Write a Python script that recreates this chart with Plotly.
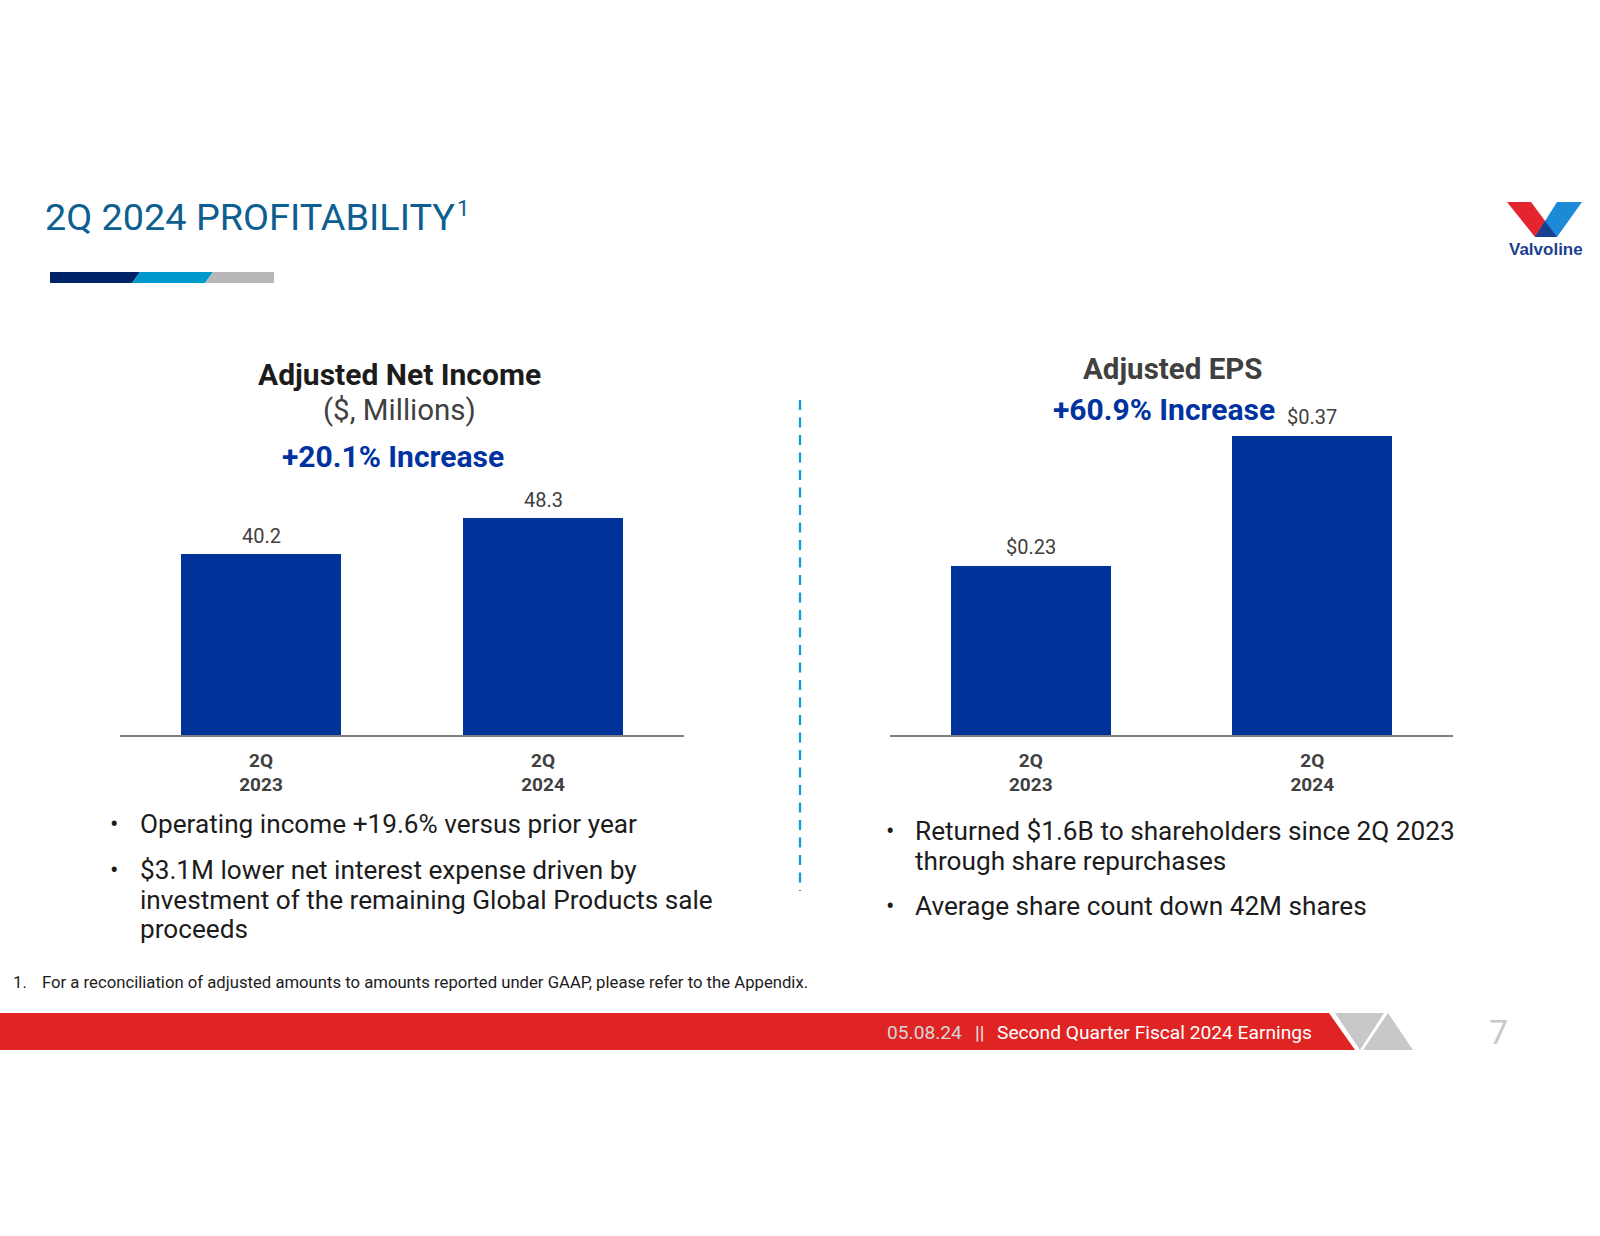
import plotly.graph_objects as go

# ---------------- data ----------------
categories = ["2Q<br>2023", "2Q<br>2024"]
net_income = [40.2, 48.3]
net_income_labels = ["40.2", "48.3"]
eps = [0.23, 0.37]
eps_labels = ["$0.23", "$0.37"]

left_bullets = [
    ["Operating income +19.6% versus prior year"],
    ["$3.1M lower net interest expense driven by",
     "investment of the remaining Global Products sale",
     "proceeds"],
]
right_bullets = [
    ["Returned $1.6B to shareholders since 2Q 2023",
     "through share repurchases"],
    ["Average share count down 42M shares"],
]

# ---------------- helpers (layout positions in page pixels) ----------------
W, H = 1600, 1236
def px(x):
    return x / W
def py(y):
    return 1 - y / H
def path(points):
    return "M " + " L ".join(f"{px(x):.5f},{py(y):.5f}" for x, y in points) + " Z"

BAR = "#003399"
BLUE_TXT = "#0033a0"
GREY_TXT = "#404040"
DARK_TXT = "#1c1c1c"
ROBOTO = "Roboto, sans-serif"

fig = go.Figure()
fig.add_trace(go.Bar(x=categories, y=net_income, xaxis="x", yaxis="y",
                     marker=dict(color=BAR, line=dict(width=0)), width=0.57,
                     hoverinfo="skip", showlegend=False))
fig.add_trace(go.Bar(x=categories, y=eps, xaxis="x2", yaxis="y2",
                     marker=dict(color=BAR, line=dict(width=0)), width=0.57,
                     hoverinfo="skip", showlegend=False))

xaxis_common = dict(showline=True, linecolor="#808080", linewidth=1.5,
                    showgrid=False, zeroline=False, ticks="",
                    tickfont=dict(family=ROBOTO, size=19, color=GREY_TXT, weight="bold"),
                    ticklabelstandoff=7, range=[-0.5, 1.5], fixedrange=True)

annotations = []

# bar value labels
for c, v, t in zip(categories, net_income, net_income_labels):
    annotations.append(dict(x=c, y=v, xref="x", yref="y", text=t, showarrow=False,
                            yanchor="bottom", yshift=4,
                            font=dict(family=ROBOTO, size=20, color=GREY_TXT)))
for c, v, t in zip(categories, eps, eps_labels):
    annotations.append(dict(x=c, y=v, xref="x2", yref="y2", text=t, showarrow=False,
                            yanchor="bottom", yshift=5,
                            font=dict(family=ROBOTO, size=20, color=GREY_TXT)))

def txt(x, y, text, size, color, family=ROBOTO, weight="normal", xanchor="center"):
    annotations.append(dict(x=px(x), y=py(y), xref="paper", yref="paper", text=text,
                            showarrow=False, xanchor=xanchor, yanchor="middle",
                            font=dict(family=family, size=size, color=color, weight=weight)))

# page title
txt(43, 217, "2Q 2024 PROFITABILITY", 37.8, "#0c5f90", xanchor="left")
txt(455, 209, "1", 22, "#0c5f90", xanchor="left")

# chart titles
txt(399, 375, "Adjusted Net Income", 30, DARK_TXT, weight="bold")
txt(399, 410, "($, Millions)", 29.5, GREY_TXT)
txt(393, 456, "+20.1% Increase", 30, BLUE_TXT, weight="bold")
txt(1172, 369, "Adjusted EPS", 29.5, GREY_TXT, weight="bold")
txt(1164, 409, "+60.9% Increase", 30, BLUE_TXT, weight="bold")

# bullets
def bullets(groups, xb, xt, ys):
    k = 0
    for g in groups:
        txt(xb, ys[k], "•", 25, DARK_TXT, xanchor="left")
        for line in g:
            txt(xt, ys[k], line, 26.2, DARK_TXT, xanchor="left")
            k += 1

bullets(left_bullets, 108, 138, [824, 870, 899.5, 928.5])
bullets(right_bullets, 884, 913, [831, 860.5, 906])

# footnote
txt(11, 982, "1.", 16.7, DARK_TXT, xanchor="left")
txt(40, 982, "For a reconciliation of adjusted amounts to amounts reported under GAAP, please refer to the Appendix.",
    16.7, DARK_TXT, xanchor="left")

# footer text
txt(885, 1032, "05.08.24", 19.2, "#d6d6d6", xanchor="left")
txt(973, 1032, "||", 19.2, "#e8e8e8", xanchor="left")
txt(995, 1032, "Second Quarter Fiscal 2024 Earnings", 19.2, "#ffffff", xanchor="left")
txt(1498, 1032, "7", 34, "#c8c8c8")

# logo text
txt(1546, 250, "Valvoline", 17, "#1b3f8f", family="Liberation Sans, Arial, sans-serif", weight="bold")

shapes = []
def poly(points, color):
    shapes.append(dict(type="path", xref="paper", yref="paper", path=path(points),
                       fillcolor=color, line=dict(width=0), layer="above"))

# title stripe
poly([(50, 272), (140, 272), (132, 283), (50, 283)], "#002469")
poly([(140, 272), (213, 272), (205, 283), (132, 283)], "#0099cc")
poly([(213, 272), (274, 272), (274, 283), (205, 283)], "#b8b8b8")

# logo V
poly([(1507, 202), (1531, 202), (1557, 237), (1535, 237)], "#e3262d")
poly([(1557, 202), (1582, 202), (1557, 237), (1535, 237)], "#1d8ad6")
poly([(1545, 221), (1557, 237), (1535, 237)], "#1a3f8f")

# footer red bar and grey triangles
poly([(0, 1013), (1329, 1013), (1355, 1050), (0, 1050)], "#e02423")
poly([(1335, 1013), (1384, 1013), (1360, 1050)], "#c8c8c8")
poly([(1388, 1013), (1413, 1050), (1363, 1050)], "#c8c8c8")

# dashed separator
shapes.append(dict(type="line", xref="paper", yref="paper",
                   x0=px(800), x1=px(800), y0=py(400), y1=py(891),
                   line=dict(color="#0aa0d4", width=2.3, dash="10px,7.5px")))

fig.update_layout(
    width=W, height=H,
    margin=dict(l=0, r=0, t=0, b=0),
    paper_bgcolor="white", plot_bgcolor="white",
    showlegend=False, bargap=0,
    xaxis=dict(domain=[px(120), px(684)], anchor="y", **xaxis_common),
    yaxis=dict(domain=[py(735), py(480)], range=[0, (735 - 480) / 4.5],
               visible=False, fixedrange=True),
    xaxis2=dict(domain=[px(890), px(1453)], anchor="y2", **xaxis_common),
    yaxis2=dict(domain=[py(735), py(420)], range=[0.048, 0.048 + (735 - 420) / 928.6],
                visible=False, fixedrange=True),
    annotations=annotations,
    shapes=shapes,
)

fig.write_html("out.html", config={"displayModeBar": False},
               post_script="document.body.style.margin='0';")
